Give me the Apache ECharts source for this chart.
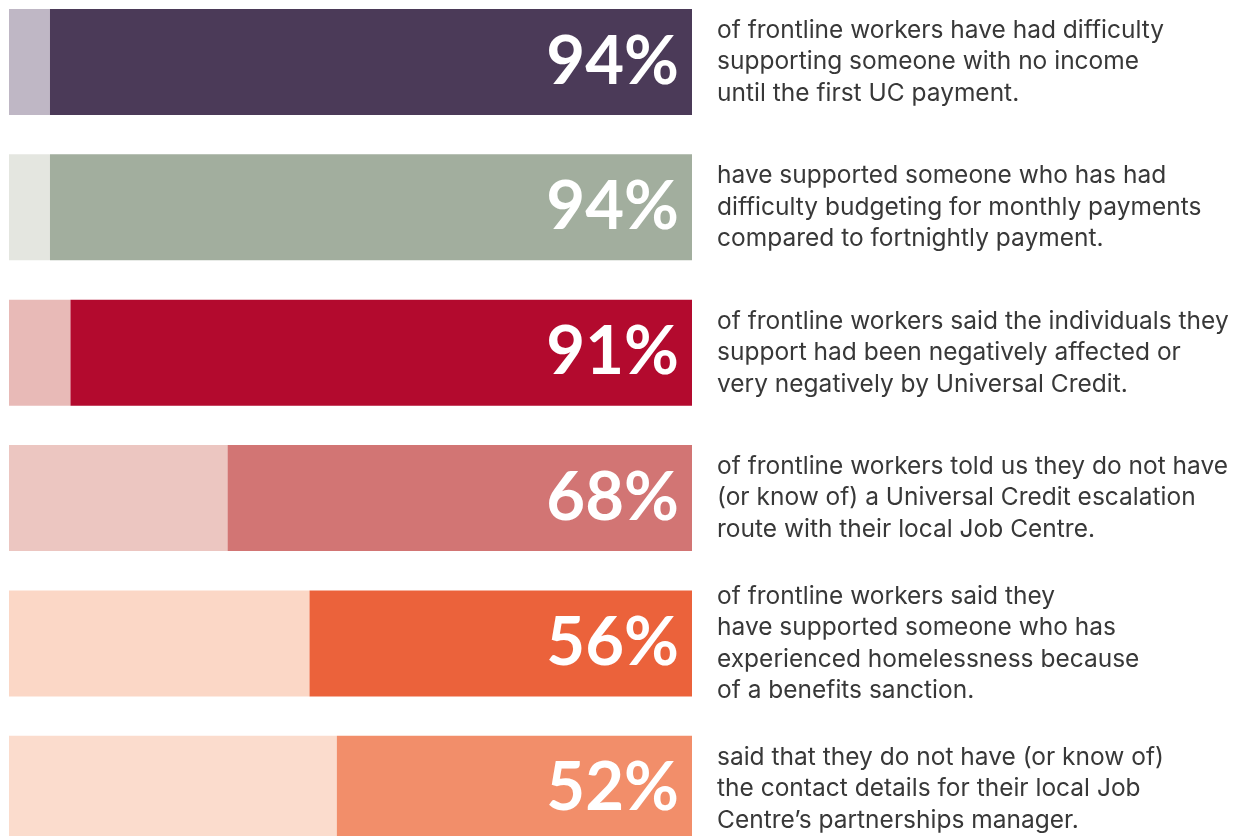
<!DOCTYPE html>
<html>
<head>
<meta charset="utf-8">
<script src="https://cdn.jsdelivr.net/npm/echarts@6/dist/echarts.min.js"></script>
<style>
  html, body { margin: 0; padding: 0; background: #ffffff; }
  #chart { width: 1243px; height: 836px; }
</style>
</head>
<body>
<div id="chart"></div>
<script>
// Survey statements, one per bar (top to bottom)
const statements = [
  'of frontline workers have had difficulty\nsupporting someone with no income\nuntil the first UC payment.',
  'have supported someone who has had\ndifficulty budgeting for monthly payments\ncompared to fortnightly payment.',
  'of frontline workers said the individuals they\nsupport had been negatively affected or\nvery negatively by Universal Credit.',
  'of frontline workers told us they do not have\n(or know of) a Universal Credit escalation\nroute with their local Job Centre.',
  'of frontline workers said they\nhave supported someone who has\nexperienced homelessness because\nof a benefits sanction.',
  'said that they do not have (or know of)\nthe contact details for their local Job\nCentre\u2019s partnerships manager.'
];

// Share of respondents (%)
const percentages = [94, 94, 91, 68, 56, 52];

// Remaining share up to 100%
const remainders = percentages.map(v => 100 - v);

// Bar colours: strong shade for the share, pale tint for the remainder
const strongColors = ['#4b3a58', '#a2ae9e', '#b30a2e', '#d27574', '#eb623b', '#f28e6a'];
const paleColors   = ['#bfb7c5', '#e4e6e0', '#e8bab7', '#ecc6c1', '#fbd7c6', '#fbdccd'];

const chart = echarts.init(document.getElementById('chart'), null, { renderer: 'canvas' });

const option = {
  animation: false,
  backgroundColor: '#ffffff',
  // categories sit on the grid edges (boundaryGap: false), first bar centred at the top edge
  grid: { left: 9, right: 551, top: 62, height: 728, containLabel: false },
  xAxis: { type: 'value', min: 0, max: 100, show: false },
  yAxis: [
    {
      type: 'category',
      data: statements,
      inverse: true,
      boundaryGap: false,
      show: false
    },
    {
      type: 'category',
      data: statements,
      inverse: true,
      boundaryGap: false,
      position: 'right',
      axisLine: { show: false },
      axisTick: { show: false },
      axisLabel: {
        show: true,
        margin: 25,
        align: 'left',
        color: '#383838',
        fontFamily: 'Inter',
        fontSize: 24.5,
        lineHeight: 31.5
      }
    }
  ],
  series: [
    {
      name: 'Remainder',
      type: 'bar',
      stack: 'total',
      yAxisIndex: 0,
      barWidth: 106,
      clip: false,
      data: remainders.map((v, i) => ({ value: v, itemStyle: { color: paleColors[i] } })),
      silent: true
    },
    {
      name: 'Share',
      type: 'bar',
      stack: 'total',
      yAxisIndex: 0,
      barWidth: 106,
      clip: false,
      data: percentages.map((v, i) => ({ value: v, itemStyle: { color: strongColors[i] } })),
      label: {
        show: true,
        position: 'insideRight',
        distance: 13,
        formatter: '{c}%',
        color: '#ffffff',
        fontFamily: 'Lato',
        fontWeight: 'bold',
        fontSize: 67
      },
      silent: true
    }
  ]
};

chart.setOption(option);
</script>
</body>
</html>
